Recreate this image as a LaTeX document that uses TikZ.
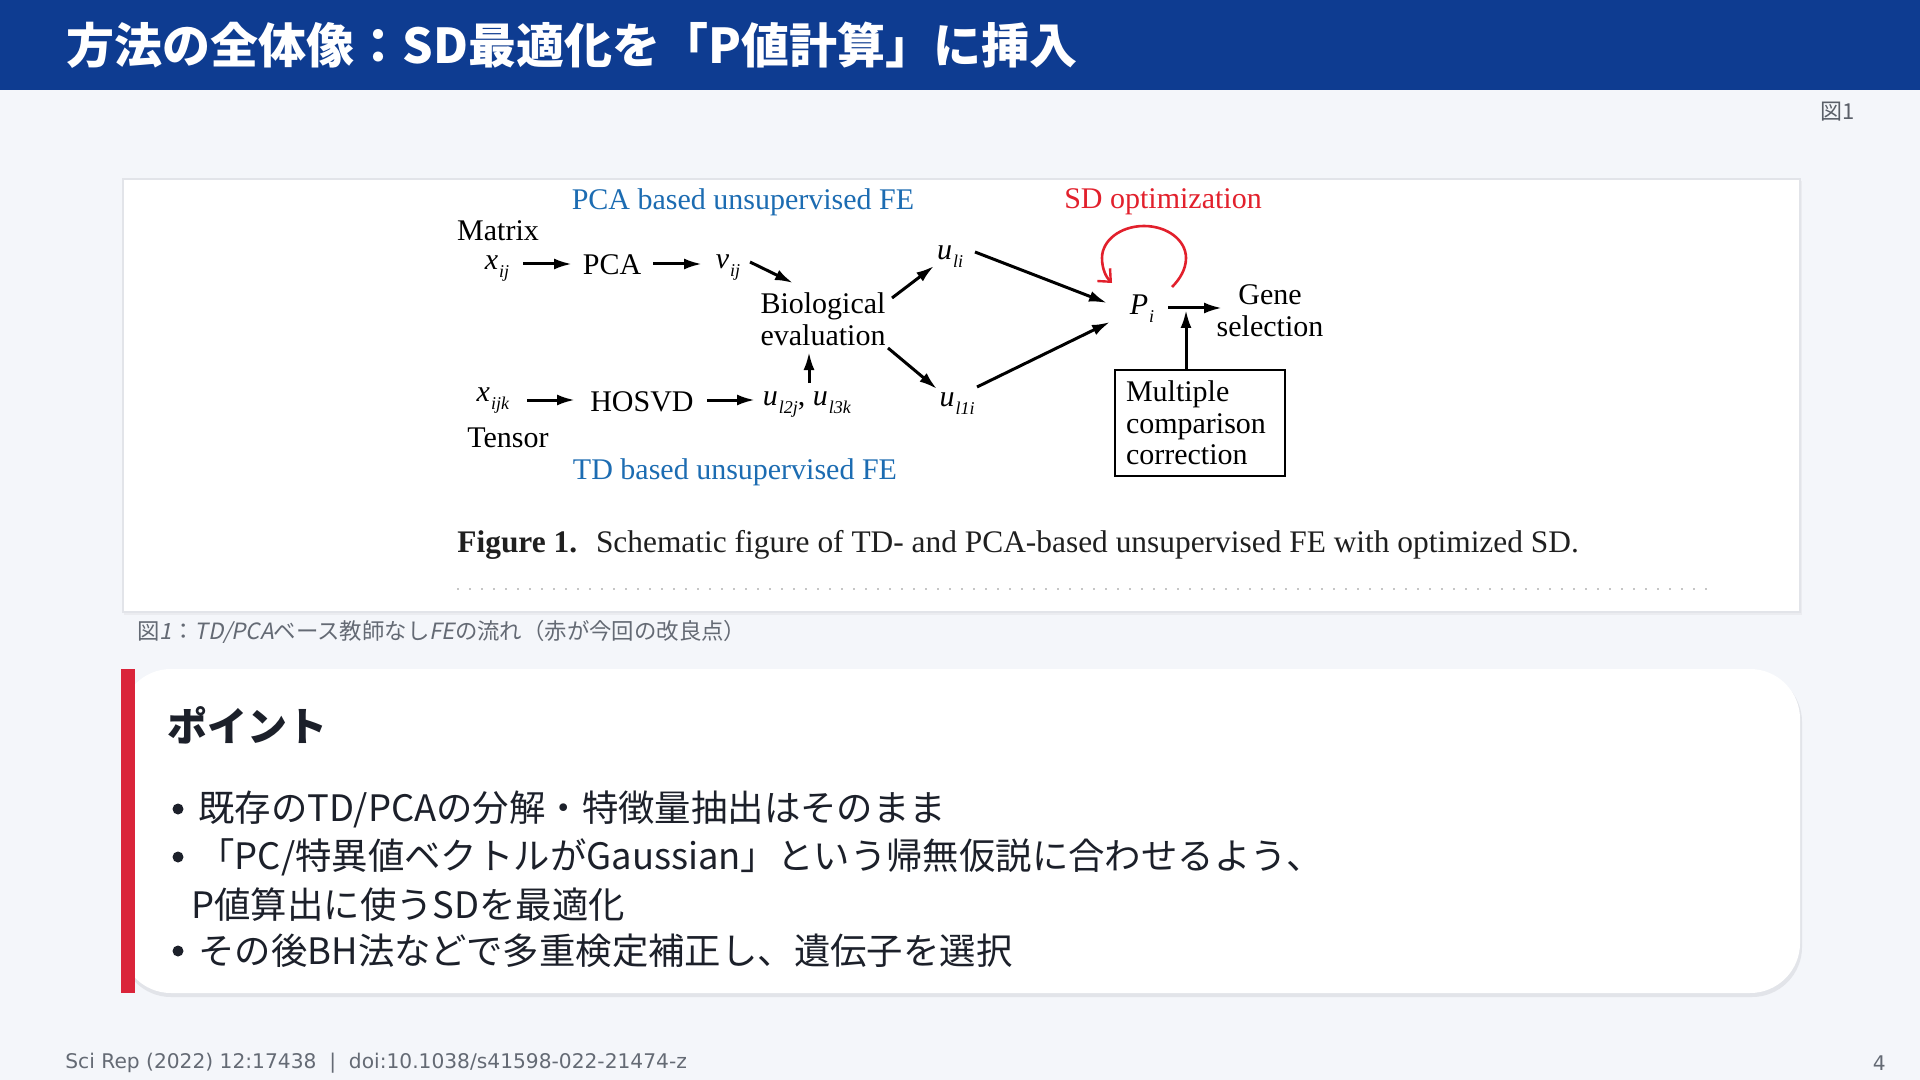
\documentclass[tikz,border=0pt]{standalone}
\usepackage{fontspec}
\setmainfont{Liberation Serif}
\newfontfamily\jp{Noto Sans CJK JP}
\newfontfamily\jpsl[FakeSlant=0.2]{Noto Sans CJK JP}
\newfontfamily\dvs{DejaVu Sans}
\usetikzlibrary{arrows.meta,calc}
\definecolor{hdr}{RGB}{14,60,145}
\definecolor{bgc}{RGB}{244,246,250}
\definecolor{figblue}{RGB}{28,108,178}
\definecolor{figred}{RGB}{226,32,44}
\definecolor{redbar}{RGB}{218,36,58}
\definecolor{txtdark}{RGB}{28,32,42}
\definecolor{txtgray}{RGB}{100,106,116}
\definecolor{edgegray}{RGB}{226,228,233}
\newcommand{\isub}[2]{\textit{#1}\kern0.5pt\raisebox{-4pt}{\fontsize{9}{9}\selectfont\textit{#2}}}
\tikzset{
  dtext/.style={font=\fontsize{15}{15.8}\selectfont, inner sep=0pt, text=black},
  blab/.style={font=\fontsize{15}{16}\selectfont, inner sep=0pt, text=figblue},
  arr/.style={-{Latex[length=9pt,width=5.5pt]}, line width=1.5pt, black},
  redarr/.style={-{Straight Barb[length=5pt,width=9pt,line width=1.2pt]}, line width=1.3pt, figred},
  bultext/.style={anchor=west, inner sep=0pt, font=\jp\fontsize{18.2}{22}\selectfont, text=txtdark},
  bulletdot/.style={circle, fill=txtdark, inner sep=0pt, minimum size=5.5pt}
}
\begin{document}
\begin{tikzpicture}[x=0.5pt,y=-0.5pt]
\useasboundingbox (0,0) rectangle (1920,1080);
\fill[bgc] (0,0) rectangle (1920,1080);
% header
\fill[hdr] (0,0) rectangle (1920,90);
\node[anchor=west, inner sep=0pt, text=white, font=\jp\bfseries\fontsize{24}{28}\selectfont] (title) at (66,45) {方法の全体像：SD最適化を「P値計算」に挿入};
\node[anchor=east, inner sep=0pt, text=txtgray!90!black, font=\jp\fontsize{11}{13}\selectfont] (figno) at (1855,112) {図1};
% figure box
\fill[edgegray!70] (124,181) rectangle (1802,615);
\fill[white] (123,179) rectangle (1800,612);
\draw[edgegray, line width=1pt] (123,179) rectangle (1800,612);
% diagram
\node[blab] (pcalab) at (743,202) {PCA based unsupervised FE};
\node[blab] (tdlab) at (735,472) {TD based unsupervised FE};
\node[blab, text=figred] (sdlab) at (1163,202) {SD optimization};
\node[dtext] (matrix) at (498,231) {Matrix};
\node[dtext] (xij) at (497,269) {\isub{x}{ij}};
\node[dtext] (pca) at (612,265) {PCA};
\node[dtext] (vij) at (728,268) {\isub{v}{ij}};
\node[dtext, align=center] (bio) at (823,319) {Biological\\evaluation};
\node[dtext] (uli) at (950,257) {\isub{u}{li}};
\node[dtext] (ulli) at (957,404) {\isub{u}{l1i}};
\node[dtext] (xijk) at (493,401) {\isub{x}{ijk}};
\node[dtext] (tensor) at (508,438) {Tensor};
\node[dtext] (hosvd) at (642,402) {HOSVD};
\node[dtext] (u2) at (807,405) {\isub{u}{l2j}, \isub{u}{l3k}};
\node[dtext] (pi) at (1142,309) {\isub{P}{i}};
\node[dtext, align=center] (gene) at (1270,311) {Gene\\selection};
\node[dtext, draw, line width=1.4pt, minimum width=85pt, minimum height=53pt, text width=74pt, align=left, inner xsep=5.5pt] (mcc) at (1200,423) {Multiple\\comparison\\correction};
% arrows
\draw[arr] ([shift={(26,-5)}]xij.center) -- ([shift={(-40,-1)}]pca.center);
\draw[arr] ([shift={(41,-1)}]pca.center) -- ([shift={(-26,-4)}]vij.center);
\draw[arr] ([shift={(22,-6)}]vij.center) -- ([shift={(-30,-36)}]bio.center);
\draw[arr] ([shift={(34,-1)}]xijk.center) -- ([shift={(-67,-2)}]hosvd.center);
\draw[arr] ([shift={(65,-2)}]hosvd.center) -- ([shift={(-52,-5)}]u2.center);
\draw[arr] ([shift={(2,-22)}]u2.center) -- ([shift={(-14,33)}]bio.center);
\draw[arr] ([shift={(69,-21)}]bio.center) -- ([shift={(-16,9)}]uli.center);
\draw[arr] ([shift={(65,29)}]bio.center) -- ([shift={(-20,-15)}]ulli.center);
\draw[arr] ([shift={(25,-5)}]uli.center) -- ([shift={(-35,-6)}]pi.center);
\draw[arr] ([shift={(20,-17)}]ulli.center) -- ([shift={(-32,13)}]pi.center);
\draw[arr] ([shift={(26,-1)}]pi.center) -- ([shift={(-48,-3)}]gene.center);
\draw[arr] ([shift={(-14,0)}]mcc.north) -- ([shift={(44,1)}]pi.center);
\begin{scope}[shift={(pi.center)}]
\draw[redarr] (30,-22) .. controls (38,-30) and (44,-40) .. (44,-51)
  .. controls (44,-69) and (25,-83) .. (2,-83)
  .. controls (-21,-83) and (-40,-69) .. (-40,-51)
  .. controls (-40,-40) and (-36,-32) .. (-30,-26);
\end{scope}
% figure caption
\node[anchor=west, inner sep=0pt, font=\fontsize{15.7}{18}\selectfont, text=black!88] (figcap) at (457,545) {\textbf{Figure 1.}\hspace{0.6em}Schematic figure of TD- and PCA-based unsupervised FE with optimized SD.};
\draw[gray!45, line width=1.2pt, dash pattern=on 1pt off 5pt] (457,589) -- (1707,589);
% caption below figure
\node[anchor=west, inner sep=0pt, text=txtgray, font=\fontsize{11.2}{13}\selectfont] (cap) at (137,632) {{\jp 図}{\jpsl 1}{\jp ：}{\jpsl TD/PCA}{\jp ベース教師なし}{\jpsl FE}{\jp の流れ（赤が今回の改良点）}};
% points box
\fill[edgegray, rounded corners=25pt] (121,672) rectangle (1802,997);
\fill[white, rounded corners=25pt] (121,669) rectangle (1800,993);
\fill[redbar] (121,669) rectangle (135,993);
\node[anchor=west, inner sep=0pt, text=txtdark, font=\jp\bfseries\fontsize{20}{24}\selectfont] (point) at (167,725) {ポイント};
\node[bulletdot] (b1) at (178,809) {};
\node[bultext] (l1) at (198,809) {既存のTD/PCAの分解・特徴量抽出はそのまま};
\node[bulletdot] (b2) at (178,857) {};
\node[bultext] (l2) at (198,857) {「PC/特異値ベクトルがGaussian」という帰無仮説に合わせるよう、};
\node[bultext] (l3) at (191,905) {P値算出に使うSDを最適化};
\node[bulletdot] (b4) at (178,951) {};
\node[bultext] (l4) at (198,951) {その後BH法などで多重検定補正し、遺伝子を選択};
% footer
\node[anchor=west, inner sep=0pt, text=txtgray, font=\dvs\fontsize{10.1}{12}\selectfont] (foot) at (65,1063) {Sci Rep (2022) 12:17438\ \ |\ \ doi:10.1038/s41598-022-21474-z};
\node[anchor=east, inner sep=0pt, text=txtgray, font=\dvs\fontsize{10.1}{12}\selectfont] (pageno) at (1886,1063) {4};
\end{tikzpicture}
\end{document}
